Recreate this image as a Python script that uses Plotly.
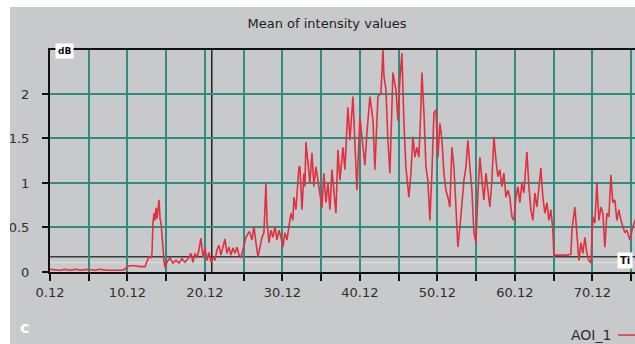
import plotly.graph_objects as go

# Time axis (days) and mean intensity (dB) for AOI_1
time_days = [
    0.12, 1.41, 2.06, 2.70, 3.48, 3.99, 5.02, 5.93, 6.57, 7.60, 8.51, 9.41, 9.80,
    10.06, 10.44, 11.09, 11.73, 12.38, 12.64, 12.89, 13.15, 13.28, 13.41, 13.54,
    13.67, 13.80, 13.93, 14.06, 14.19, 14.32, 14.45, 14.57, 14.70, 14.83, 14.96,
    15.22, 15.60, 15.99, 16.38, 16.77, 17.15, 17.54, 17.93, 18.31, 18.57, 18.83,
    19.09, 19.35, 19.60, 19.86, 20.12, 20.38, 20.64, 20.89, 21.15, 21.41, 21.67,
    21.93, 22.18, 22.44, 22.70, 22.96, 23.22, 23.47, 23.73, 23.99, 24.25, 24.51,
    24.77, 25.02, 25.41, 25.80, 25.93, 26.18, 26.44, 26.70, 26.96, 27.22, 27.48,
    27.73, 27.86, 27.99, 28.12, 28.38, 28.64, 28.89, 29.15, 29.41, 29.67, 29.93,
    30.18, 30.44, 30.70, 30.96, 31.22, 31.47, 31.60, 31.86, 32.12, 32.25, 32.38,
    32.64, 32.89, 33.02, 33.15, 33.41, 33.67, 33.93, 34.18, 34.44, 34.70, 34.96,
    35.22, 35.47, 35.73, 35.99, 36.25, 36.51, 36.76, 37.02, 37.28, 37.54, 37.93,
    38.18, 38.57, 38.83, 39.22, 39.47, 39.73, 40.12, 40.51, 40.76, 41.02, 41.41,
    41.80, 42.05, 42.44, 42.83, 43.09, 43.22, 43.48, 43.73, 43.99, 44.38, 44.77,
    45.02, 45.28, 45.54, 45.80, 46.05, 46.44, 46.70, 46.96, 47.22, 47.47, 47.73,
    47.99, 48.12, 48.38, 48.64, 48.89, 49.15, 49.41, 49.67, 49.93, 50.18, 50.44,
    50.70, 50.96, 51.22, 51.47, 51.73, 51.99, 52.25, 52.51, 52.76, 53.02, 53.28,
    53.54, 53.80, 54.05, 54.31, 54.57, 54.83, 55.09, 55.35, 55.60, 55.86, 56.12,
    56.38, 56.64, 56.89, 57.15, 57.41, 57.67, 57.93, 58.18, 58.44, 58.70, 58.96,
    59.22, 59.47, 59.73, 59.99, 60.25, 60.51, 60.76, 61.02, 61.28, 61.54, 61.67,
    61.93, 62.18, 62.44, 62.70, 62.96, 63.22, 63.47, 63.73, 63.99, 64.25, 64.51,
    64.76, 65.02, 65.15, 65.93, 66.70, 67.35, 67.48, 67.86, 68.12, 68.38, 68.64,
    68.89, 69.15, 69.41, 69.67, 69.93, 70.18, 70.44, 70.70, 70.96, 71.22, 71.47,
    71.73, 71.99, 72.25, 72.51, 72.76, 73.02, 73.28, 73.54, 73.80, 74.05, 74.31,
    74.57, 74.96, 75.35, 75.73,
]
intensity_db = [
    0.03, 0.02, 0.03, 0.02, 0.03, 0.02, 0.03, 0.02, 0.03, 0.02, 0.02, 0.02, 0.03,
    0.06, 0.07, 0.07, 0.06, 0.06, 0.12, 0.17, 0.16, 0.20, 0.55, 0.66,
    0.58, 0.72, 0.60, 0.76, 0.81, 0.60, 0.55, 0.42, 0.25, 0.12, 0.05,
    0.11, 0.16, 0.10, 0.13, 0.10, 0.15, 0.11, 0.15, 0.21, 0.11, 0.21,
    0.16, 0.25, 0.38, 0.17, 0.27, 0.13, 0.22, 0.11, 0.17, 0.13, 0.25,
    0.30, 0.19, 0.27, 0.37, 0.21, 0.28, 0.19, 0.27, 0.21, 0.28, 0.19,
    0.16, 0.25, 0.39, 0.45, 0.44, 0.36, 0.51, 0.33, 0.17, 0.28, 0.39,
    0.44, 0.81, 1.00, 0.58, 0.33, 0.47, 0.39, 0.51, 0.36, 0.47, 0.39,
    0.28, 0.44, 0.36, 0.51, 0.66, 0.58, 0.84, 0.70, 1.00, 1.18, 1.18,
    0.70, 1.11, 0.96, 1.46, 1.18, 1.00, 1.34, 0.96, 1.18, 1.03, 0.84,
    0.72, 1.11, 0.78, 1.00, 0.70, 1.15, 0.92, 0.66, 1.37, 1.03, 1.40,
    1.15, 1.85, 1.48, 1.97, 1.48, 0.92, 1.74, 1.45, 1.20, 1.56, 1.97,
    1.71, 1.15, 1.97, 2.01, 2.50, 2.20, 2.05, 1.48, 1.11, 2.24, 2.05,
    1.70, 2.16, 2.46, 1.67, 1.18, 0.84, 1.11, 1.52, 1.29, 1.40, 1.29,
    1.85, 2.24, 1.79, 1.18, 1.03, 0.58, 1.11, 1.79, 1.82, 1.29, 1.67,
    1.48, 1.11, 0.92, 0.84, 0.73, 1.40, 1.18, 0.73, 0.28, 0.50, 0.81,
    1.03, 1.18, 1.48, 1.18, 0.92, 0.44, 0.33, 0.89, 1.29, 1.03, 0.81,
    1.11, 0.92, 0.73, 1.03, 1.52, 1.26, 1.07, 1.15, 0.96, 1.11, 0.84,
    0.92, 0.84, 0.62, 0.58, 0.84, 0.96, 0.78, 1.00, 0.89, 1.15, 1.35,
    0.96, 0.70, 0.58, 0.89, 0.73, 0.96, 1.17, 0.84, 0.66, 0.78, 0.58,
    0.70, 0.47, 0.19, 0.19, 0.19, 0.20, 0.47, 0.73, 0.39, 0.13, 0.33,
    0.21, 0.39, 0.21, 0.13, 0.10, 0.62, 0.55, 1.00, 0.58, 0.73, 0.66,
    0.28, 0.66, 0.62, 1.09, 0.78, 0.81, 0.58, 0.70, 0.58, 0.51, 0.44,
    0.47, 0.36, 0.51, 0.60,
]

x_tick_values = [0.12, 5.12, 10.12, 15.12, 20.12, 25.12, 30.12, 35.12,
                 40.12, 45.12, 50.12, 55.12, 60.12, 65.12, 70.12, 75.12]
x_tick_labels = ["0.12", "", "10.12", "", "20.12", "", "30.12", "",
                 "40.12", "", "50.12", "", "60.12", "", "70.12", ""]
y_tick_values = [0, 0.5, 1, 1.5, 2]
y_tick_labels = ["0", "0.5", "1", "1.5", "2"]

threshold_db = 0.17
threshold_lower_db = 0.105
cursor_day = 21.0

BG = "#c8c9cb"
GRID = "#2e8c81"
TRACE = "#e2303f"
TEXT = "#2e2e2e"
FONT = "DejaVu Sans"

fig = go.Figure()
fig.add_trace(go.Scatter(
    x=time_days, y=intensity_db, mode="lines", name="AOI_1",
    line=dict(color=TRACE, width=1.6), showlegend=False,
))

# threshold lines, cursor line
fig.add_shape(type="line", xref="paper", yref="y", x0=0, x1=1,
              y0=threshold_lower_db, y1=threshold_lower_db,
              line=dict(color="#e4e4e4", width=1), layer="below")
fig.add_shape(type="line", xref="paper", yref="y", x0=0, x1=1,
              y0=threshold_db, y1=threshold_db,
              line=dict(color="#3a3a3a", width=1.5), layer="below")
fig.add_shape(type="line", xref="x", yref="paper", x0=cursor_day, x1=cursor_day,
              y0=0, y1=1, line=dict(color="#222222", width=1.5), layer="below")

# white frame strips at top and left
fig.add_shape(type="rect", xref="paper", yref="paper", x0=-0.2, x1=1.1,
              y0=1.1937, y1=1.4, fillcolor="white", line=dict(width=0))
fig.add_shape(type="rect", xref="paper", yref="paper", x0=-0.2, x1=-0.0684,
              y0=-0.6, y1=1.4, fillcolor="white", line=dict(width=0))

# legend entry
fig.add_shape(type="line", xref="paper", yref="paper", x0=0.971, x1=1.02,
              y0=-0.284, y1=-0.284, line=dict(color=TRACE, width=1.5))
fig.add_annotation(text="AOI_1", xref="paper", yref="paper", x=0.962, y=-0.284,
                   xanchor="right", yanchor="middle", showarrow=False,
                   font=dict(family=FONT, size=14, color=TEXT))

# axis unit label boxes
fig.add_annotation(text="<b>dB</b>", xref="paper", yref="paper", x=0.008, y=0.995,
                   xanchor="left", yanchor="middle", showarrow=False,
                   bgcolor="white", borderpad=2,
                   font=dict(family=FONT, size=9, color="#111111"))
fig.add_annotation(text="<b>Ti</b>", xref="paper", yref="paper", x=0.969, y=0.05,
                   xanchor="left", yanchor="middle", showarrow=False,
                   bgcolor="white", borderpad=2,
                   font=dict(family=FONT, size=10, color="#111111"))

# panel letter
fig.add_annotation(text="<b>c</b>", xref="paper", yref="paper", x=-0.043, y=-0.248,
                   xanchor="center", yanchor="middle", showarrow=False,
                   font=dict(family=FONT, size=16, color="white"))

fig.update_layout(
    width=635, height=344,
    margin=dict(l=50, r=0, t=50, b=72),
    paper_bgcolor=BG, plot_bgcolor=BG,
    title=dict(text="Mean of intensity values", xref="paper", x=0.4735,
               xanchor="center", yref="container", y=1 - 23 / 344, yanchor="middle",
               font=dict(family=FONT, size=13, color="#1e1e1e")),
    font=dict(family=FONT, size=13, color=TEXT),
    xaxis=dict(
        range=[0.12, 75.62], tickmode="array", tickvals=x_tick_values,
        ticktext=x_tick_labels, showgrid=True, gridcolor=GRID, gridwidth=2,
        showline=True, linecolor="#111111", linewidth=2, mirror=True,
        ticks="outside", ticklen=7, tickwidth=1.5, tickcolor="#111111",
        zeroline=False, tickfont=dict(family=FONT, size=13, color=TEXT),
    ),
    yaxis=dict(
        range=[0, 2.494], tickmode="array", tickvals=y_tick_values,
        ticktext=y_tick_labels, showgrid=True, gridcolor=GRID, gridwidth=2,
        showline=True, linecolor="#111111", linewidth=2,
        ticks="outside", ticklen=6, tickwidth=1.5, tickcolor="#111111",
        ticklabelstandoff=10,
        zeroline=False, tickfont=dict(family=FONT, size=13, color=TEXT),
    ),
)

fig.write_html("out.html")
